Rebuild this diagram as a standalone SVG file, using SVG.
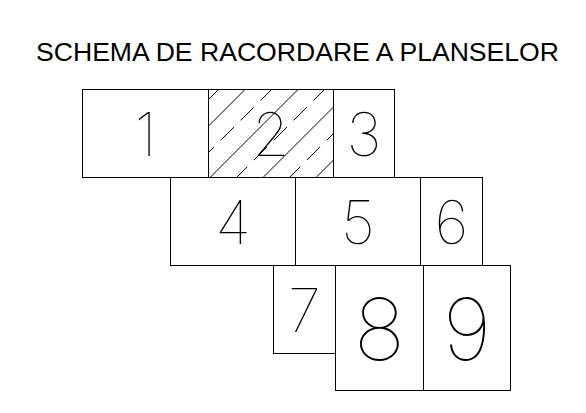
<svg xmlns="http://www.w3.org/2000/svg" width="586" height="413" viewBox="0 0 586 413">
<style>
  .box{fill:none;stroke:#000;stroke-width:1}
  .num{font-family:Inter,"DejaVu Sans",sans-serif;font-weight:100;fill:#000;text-anchor:middle}
  .small{font-size:60px}
  .big{font-size:86px}
  .h{stroke:#000;stroke-width:1;fill:none}
  .hd{stroke-dasharray:18.7 9.4}
  .title{font-family:"Liberation Sans",Arial,sans-serif;font-size:25.5px;fill:#000}
</style>
<defs>
  <clipPath id="clip2"><rect x="208.5" y="89.5" width="125" height="88"/></clipPath>
</defs>
<rect width="586" height="413" fill="#fff"/>
<text class="title" x="36" y="60.5" textLength="523" lengthAdjust="spacingAndGlyphs">SCHEMA DE RACORDARE A PLANSELOR</text>

<g id="sheet1"><rect class="box" x="82.5" y="89.5" width="126" height="88"/><text class="num small" x="145.5" y="155.5">1</text></g>
<g id="sheet2">
  <g clip-path="url(#clip2)">
    <line class="h" x1="154.5" y1="180" x2="248.5" y2="86"/>
    <line class="h" x1="207.5" y1="180" x2="301.5" y2="86"/>
    <line class="h" x1="260.5" y1="180" x2="354.5" y2="86"/>
    <line class="h" x1="313.5" y1="180" x2="407.5" y2="86"/>
    <line class="h hd" x1="128" y1="180" x2="222" y2="86"/>
    <line class="h hd" x1="181" y1="180" x2="275" y2="86"/>
    <line class="h hd" x1="234" y1="180" x2="328" y2="86"/>
    <line class="h hd" x1="287" y1="180" x2="381" y2="86"/>
  </g>
  <rect class="box" x="208.5" y="89.5" width="125" height="88"/>
  <text class="num small" x="271" y="155.5">2</text>
</g>
<g id="sheet3"><rect class="box" x="333.5" y="89.5" width="61" height="88"/><text class="num small" x="364" y="155.5">3</text></g>
<g id="sheet4"><rect class="box" x="170.5" y="177.5" width="125" height="88"/><text class="num small" x="233" y="243.5">4</text></g>
<g id="sheet5"><rect class="box" x="295.5" y="177.5" width="125" height="88"/><text class="num small" x="358" y="243.5">5</text></g>
<g id="sheet6"><rect class="box" x="420.5" y="177.5" width="62" height="88"/><text class="num small" x="451.5" y="243.5">6</text></g>
<g id="sheet7"><rect class="box" x="273.5" y="265.5" width="62" height="88"/><text class="num small" x="304.5" y="331.5">7</text></g>
<g id="sheet8"><rect class="box" x="335.5" y="265.5" width="88" height="125"/><text class="num big" x="379.5" y="359.5">8</text></g>
<g id="sheet9"><rect class="box" x="423.5" y="265.5" width="87" height="125"/><text class="num big" x="467" y="359.5">9</text></g>
</svg>
